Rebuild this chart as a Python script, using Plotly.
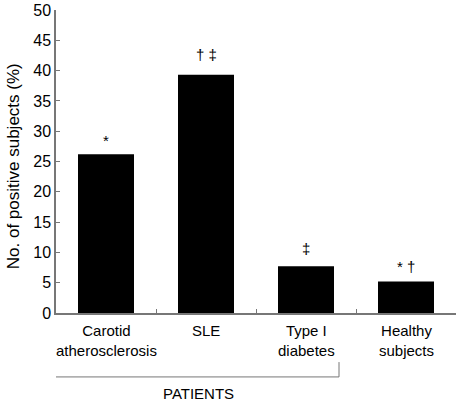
import plotly.graph_objects as go

categories = ["Carotid<br>atherosclerosis", "SLE", "Type I<br>diabetes", "Healthy<br>subjects"]
values = [26.2, 39.3, 7.7, 5.2]
markers = ["*", "\u2020 \u2021", "\u2021", "* \u2020"]
marker_gap = [3, 10, 7, 4]
y_ticks = [0, 5, 10, 15, 20, 25, 30, 35, 40, 45, 50]
group_label = "PATIENTS"
y_title = "No. of positive subjects (%)"

FONT = "Liberation Sans, Arial, sans-serif"

fig = go.Figure()
fig.add_trace(go.Bar(
    x=list(range(len(categories))), y=values, width=0.56,
    marker=dict(color="black", line=dict(width=0)),
    hoverinfo="skip",
))

fig.update_layout(
    width=458, height=402,
    margin=dict(l=56, r=2, t=10, b=89, autoexpand=False),
    paper_bgcolor="white", plot_bgcolor="white",
    showlegend=False,
    font=dict(family=FONT, size=15, color="black"),
    xaxis=dict(
        range=[-0.5, 3.5], tickmode="array",
        tickvals=[-0.5, 0.5, 1.5, 2.5, 3.5], ticktext=["", "", "", "", ""],
        ticks="inside", ticklen=4, tickcolor="#777", tickwidth=1,
        showline=True, linecolor="#777", linewidth=1.5,
        showgrid=False, zeroline=False, automargin=False,
    ),
    yaxis=dict(
        range=[0, 50], tickvals=y_ticks,
        ticks="inside", ticklen=4, tickcolor="#777", tickwidth=1,
        showline=True, linecolor="#777", linewidth=1.5,
        showgrid=False, zeroline=False, automargin=False,
        tickfont=dict(size=16),
    ),
)

# significance markers above bars
for i, (v, m, g) in enumerate(zip(values, markers, marker_gap)):
    fig.add_annotation(x=i, y=v, xref="x", yref="y", text=m, showarrow=False,
                       yanchor="bottom", yshift=g,
                       font=dict(family=FONT, size=15, color="black"))

# y-axis title
fig.add_annotation(x=-0.107, y=0.485, xref="paper", yref="paper", text=y_title,
                   textangle=-90, showarrow=False, xanchor="center", yanchor="middle",
                   font=dict(family=FONT, size=17, color="black"))

# category labels below axis
for i, c in enumerate(categories):
    fig.add_annotation(x=i, y=-0.022, xref="x", yref="paper", text=c,
                       showarrow=False, yanchor="top",
                       font=dict(family=FONT, size=15, color="black"))

# bracket for patients
fig.add_shape(type="line", xref="x", yref="paper", x0=-0.53, x1=2.33, y0=-0.211, y1=-0.211,
              line=dict(color="#777", width=1))
fig.add_shape(type="line", xref="x", yref="paper", x0=-0.53, x1=-0.53, y0=-0.211, y1=-0.162,
              line=dict(color="#777", width=1))
fig.add_shape(type="line", xref="x", yref="paper", x0=2.33, x1=2.33, y0=-0.211, y1=-0.162,
              line=dict(color="#777", width=1))
fig.add_annotation(x=0.92, y=-0.232, xref="x", yref="paper", text=group_label,
                   showarrow=False, yanchor="top",
                   font=dict(family=FONT, size=15, color="black"))

fig.write_html("out.html", config={"displayModeBar": False},
               post_script="document.body.style.margin='0';")
